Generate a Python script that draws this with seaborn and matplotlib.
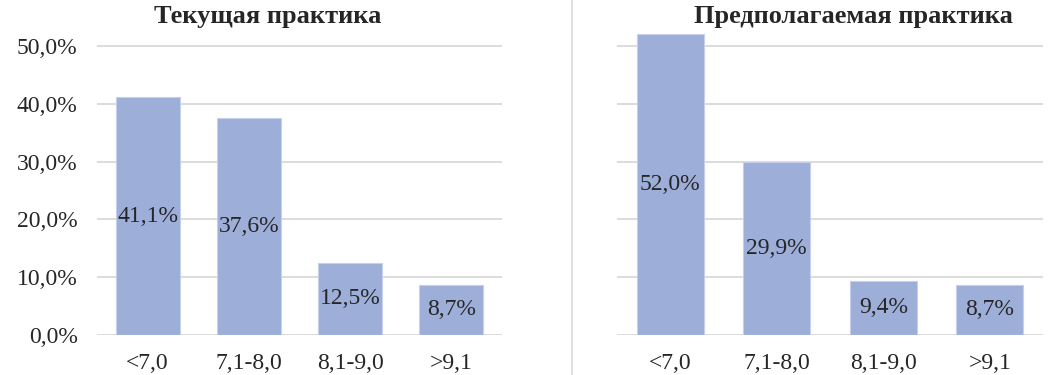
import pandas as pd
import matplotlib.pyplot as plt
import seaborn as sns
from matplotlib.ticker import FuncFormatter
from matplotlib.lines import Line2D

# Данные
categories = ["<7,0", "7,1-8,0", "8,1-9,0", ">9,1"]
current = [0.411, 0.376, 0.125, 0.087]
planned = [0.520, 0.299, 0.094, 0.087]
titles = ["Текущая практика", "Предполагаемая практика"]

sns.set_theme(style="white")
plt.rcParams["font.family"] = ["Liberation Serif", "DejaVu Serif"]

bar_color = "#9DAED9"
grid_color = "#D9D9D9"
text_color = "#262626"

fig = plt.figure(figsize=(10.63, 3.75), dpi=100)
W, H = 1063, 375

def pct(v, pos=None):
    return f"{v * 100:.1f}%".replace(".", ",")

axes_px = [(97, 405), (617, 426)]
title_x = [268, 853]

for (x0, w), vals, title, tx in zip(axes_px, [current, planned], titles, title_x):
    ax = fig.add_axes([x0 / W, 40 / H, w / W, 300.6 / H])
    df = pd.DataFrame({"cat": categories, "val": vals})
    sns.barplot(data=df, x="cat", y="val", color=bar_color, width=0.63,
                saturation=1, edgecolor="#C5D0EC", linewidth=0.8, ax=ax, zorder=3)
    ax.set_ylim(0, 0.52)
    ax.set_xlim(-0.5, 3.5)
    ax.set_yticks([0, 0.1, 0.2, 0.3, 0.4, 0.5])
    ax.yaxis.set_major_formatter(FuncFormatter(pct))
    ax.grid(axis="y", color=grid_color, linewidth=1.3, zorder=0)
    ax.set_axisbelow(True)
    for s in ax.spines.values():
        s.set_visible(False)
    ax.set_xlabel("")
    ax.set_ylabel("")
    ax.tick_params(axis="y", length=0, pad=14, labelsize=17, colors=text_color)
    ax.tick_params(axis="x", length=0, pad=13, labelsize=17, colors=text_color)
    if x0 > 500:
        ax.tick_params(axis="y", labelleft=False)
    ax.bar_label(ax.containers[0], labels=[pct(v) for v in vals],
                 label_type="center", fontsize=17, color=text_color)
    fig.text(tx / W, 1 - 16 / H, title, ha="center", va="center",
             fontsize=19, fontweight="bold", color=text_color)

# разделитель между диаграммами
fig.add_artist(Line2D([572 / W, 572 / W], [0, 1], color=grid_color, linewidth=1.2))

plt.savefig("out.png", dpi=100)
